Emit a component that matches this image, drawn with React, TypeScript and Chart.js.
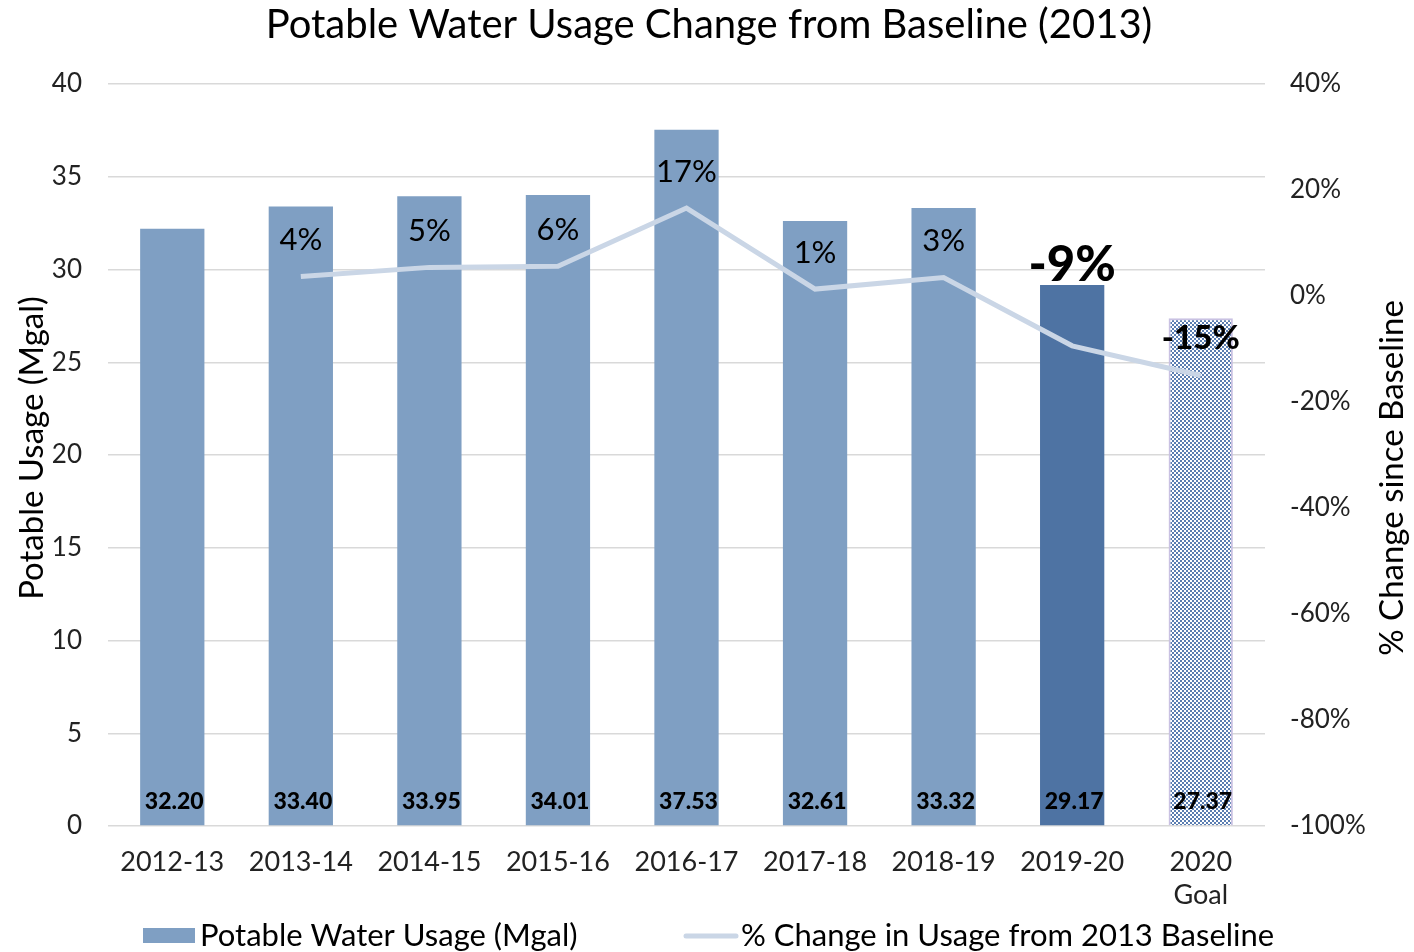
import React, { useEffect, useRef } from "react";
import { Chart, registerables } from "chart.js";

Chart.register(...registerables);

const categories: (string | string[])[] = ["2012-13", "2013-14", "2014-15", "2015-16", "2016-17", "2017-18", "2018-19", "2019-20", ["2020", "Goal"]];
const usage = [32.2, 33.4, 33.95, 34.01, 37.53, 32.61, 33.32, 29.17, 27.37];
const pctChange = [null, 3.7, 5.4, 5.6, 16.6, 1.3, 3.5, -9.4, -15.0];
const pctLabels = ["", "4%", "5%", "6%", "17%", "1%", "3%", "-9%", "-15%"];
const leftTicks = [0, 5, 10, 15, 20, 25, 30, 35, 40];
const rightTicks = [-100, -80, -60, -40, -20, 0, 20, 40];

const FONT = "Lato, 'Open Sans', sans-serif";
const BAR = "#7f9fc3";
const BAR_DARK = "#4e73a3";
const LINE = "#cad6e6";

function makePattern(): CanvasPattern | string {
  const c = document.createElement("canvas");
  c.width = 4;
  c.height = 4;
  const g = c.getContext("2d");
  if (!g) return BAR_DARK;
  g.fillStyle = "#ffffff";
  g.fillRect(0, 0, 4, 4);
  g.fillStyle = "#5a7db0";
  g.fillRect(0, 0, 2, 2);
  g.fillRect(2, 2, 2, 2);
  const p = g.createPattern(c, "repeat");
  return p || BAR_DARK;
}

const labelsPlugin = {
  id: "customLabels",
  afterDatasetsDraw(chart: any) {
    const ctx = chart.ctx as CanvasRenderingContext2D;
    const ca = chart.chartArea;
    ctx.save();
    ctx.textAlign = "center";
    ctx.textBaseline = "middle";
    const barMeta = chart.getDatasetMeta(1);
    barMeta.data.forEach((el: any, i: number) => {
      ctx.font = `900 23px ${FONT}`;
      ctx.fillStyle = "#000";
      ctx.fillText(usage[i].toFixed(2), el.x + 2, ca.bottom - 24);
    });
    const lineMeta = chart.getDatasetMeta(0);
    lineMeta.data.forEach((el: any, i: number) => {
      const txt = pctLabels[i];
      if (!txt || pctChange[i] === null) return;
      let dy = -36;
      if (i === 7) {
        ctx.font = `900 49px ${FONT}`;
        dy = -81;
      } else if (i === 8) {
        ctx.font = `900 33px ${FONT}`;
        dy = -37;
      } else {
        ctx.font = `31px ${FONT}`;
      }
      ctx.fillStyle = "#000";
      ctx.fillText(txt, el.x, el.y + dy);
    });
    ctx.restore();
  },
  afterDraw(chart: any) {
    const ctx = chart.ctx as CanvasRenderingContext2D;
    ctx.save();
    ctx.fillStyle = "#000";
    ctx.textBaseline = "middle";
    ctx.textAlign = "center";
    ctx.font = `40px ${FONT}`;
    ctx.fillText("Potable Water Usage Change from Baseline (2013)", 709, 25);
    ctx.font = `33px ${FONT}`;
    ctx.save();
    ctx.translate(32, 448);
    ctx.rotate(-Math.PI / 2);
    ctx.fillText("Potable Usage (Mgal)", 0, 0);
    ctx.restore();
    ctx.save();
    ctx.translate(1392, 478);
    ctx.rotate(-Math.PI / 2);
    ctx.fillText("% Change since Baseline", 0, 0);
    ctx.restore();
    ctx.font = `31px ${FONT}`;
    ctx.textAlign = "left";
    ctx.fillStyle = BAR;
    ctx.fillRect(143, 928, 52, 15);
    ctx.fillStyle = "#000";
    ctx.fillText("Potable Water Usage (Mgal)", 200, 936);
    ctx.strokeStyle = LINE;
    ctx.lineWidth = 5;
    ctx.lineCap = "round";
    ctx.beginPath();
    ctx.moveTo(686, 936);
    ctx.lineTo(736, 936);
    ctx.stroke();
    ctx.fillText("% Change in Usage from 2013 Baseline", 741, 936);
    ctx.restore();
  },
};

export default function App() {
  const ref = useRef<HTMLCanvasElement | null>(null);
  useEffect(() => {
    document.body.style.margin = "0";
    if (!ref.current) return;
    const pattern = makePattern();
    const barColors = usage.map((_, i) => (i === 7 ? BAR_DARK : i === 8 ? pattern : BAR));
    const borderColors = usage.map((_, i) => (i === 8 ? "#c9c1e2" : "rgba(0,0,0,0)"));
    const chart = new Chart(ref.current, {
      type: "bar",
      data: {
        labels: categories as any,
        datasets: [
          {
            type: "line",
            label: "% Change in Usage from 2013 Baseline",
            data: pctChange as any,
            yAxisID: "y1",
            borderColor: LINE,
            backgroundColor: LINE,
            borderWidth: 5,
            pointRadius: 0,
            tension: 0,
            order: 0,
          } as any,
          {
            type: "bar",
            label: "Potable Water Usage (Mgal)",
            data: usage,
            yAxisID: "y",
            backgroundColor: barColors as any,
            borderColor: borderColors,
            borderWidth: usage.map((_, i) => (i === 8 ? 2 : 0)),
            barPercentage: 0.5,
            categoryPercentage: 1,
            order: 1,
          } as any,
        ],
      },
      options: {
        animation: false,
        responsive: false,
        maintainAspectRatio: false,
        layout: { padding: { top: 84, left: 0, right: 0, bottom: 0 } },
        plugins: {
          legend: { display: false },
          title: { display: false },
          tooltip: { enabled: false },
        },
        scales: {
          x: {
            grid: { display: false, drawTicks: false },
            border: { display: false },
            ticks: { color: "#222", font: { family: FONT, size: 27, lineHeight: 1.25 }, padding: 19, maxRotation: 0, autoSkip: false },
            afterFit: (s: any) => { s.height = 126; },
          },
          y: {
            position: "left",
            min: 0,
            max: 40,
            afterBuildTicks: (s: any) => { s.ticks = leftTicks.map((v) => ({ value: v })); },
            grid: { color: "#d9d9d9", lineWidth: 1.5, drawTicks: false },
            border: { display: false },
            ticks: { color: "#222", font: { family: FONT, size: 26 }, padding: 26 },
            afterFit: (s: any) => { s.width = 108; },
          },
          y1: {
            position: "right",
            min: -100,
            max: 40,
            afterBuildTicks: (s: any) => { s.ticks = rightTicks.map((v) => ({ value: v })); },
            grid: { display: false, drawTicks: false },
            border: { display: false },
            ticks: { color: "#222", font: { family: FONT, size: 26 }, padding: 25, callback: (v: any) => `${v}%` },
            afterFit: (s: any) => { s.width = 149; },
          },
        },
      },
      plugins: [labelsPlugin],
    });
    return () => chart.destroy();
  }, []);
  return (
    <div style={{ position: "absolute", left: 0, top: 0, width: 1414, height: 952 }}>
      <canvas ref={ref} width={1414} height={952} style={{ width: 1414, height: 952 }} />
    </div>
  );
}
